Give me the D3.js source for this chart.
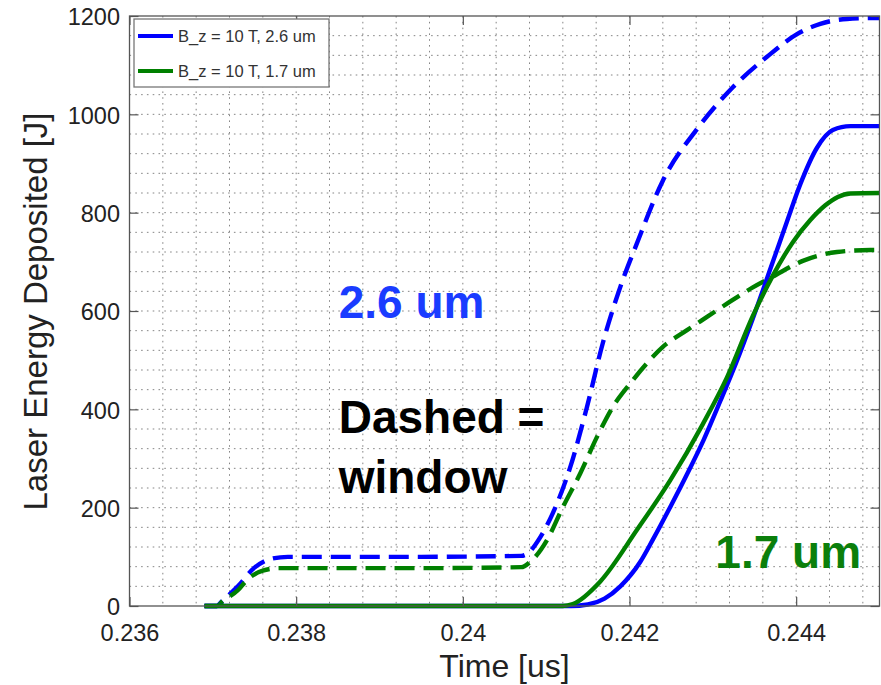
<!DOCTYPE html>
<html>
<head>
<meta charset="utf-8">
<script src="https://cdn.jsdelivr.net/npm/d3@7"></script>
<style>
  html, body { margin: 0; padding: 0; background: #fff; }
  svg { display: block; font-family: "Liberation Sans", Arial, Helvetica, sans-serif; }
</style>
</head>
<body>
<svg id="chart" width="881" height="685"></svg>
<script>
// ---------- data ----------
const xTickValues = [0.236, 0.238, 0.240, 0.242, 0.244];
const xTickLabels = ["0.236", "0.238", "0.24", "0.242", "0.244"];
const yTickValues = [0, 200, 400, 600, 800, 1000, 1200];
const yTickLabels = ["0", "200", "400", "600", "800", "1000", "1200"];

const seriesNames = ["B_z = 10 T, 2.6 um", "B_z = 10 T, 1.7 um"];
const seriesColors = ["#0000ff", "#008000"];

// 2.6 um, dashed (window)
const tBlueDash = [0.2369, 0.23705, 0.2371, 0.2373, 0.2375, 0.2377, 0.2379, 0.2395, 0.2407, 0.24077, 0.24093, 0.24108, 0.24129, 0.24149, 0.24168, 0.24189, 0.24209, 0.2424, 0.24281, 0.24324, 0.24365, 0.24401, 0.24429, 0.24461, 0.245];
const vBlueDash = [0, 0, 8, 40, 78, 96, 100, 100, 102, 106, 140, 189, 283, 405, 535, 649, 738, 865, 970, 1055, 1117, 1163, 1184, 1194, 1196];

// 1.7 um, dashed (window)
const tGreenDash = [0.2369, 0.23705, 0.23712, 0.2373, 0.23741, 0.2376, 0.2378, 0.2395, 0.2407, 0.24081, 0.24101, 0.2412, 0.24141, 0.24161, 0.2418, 0.24201, 0.24221, 0.2424, 0.24269, 0.24293, 0.24317, 0.24348, 0.24372, 0.24408, 0.24449, 0.24489, 0.245];
const vGreenDash = [0, 0, 10, 32, 53, 72, 77, 77, 79, 90, 134, 201, 270, 344, 405, 453, 494, 527, 561, 588, 615, 648, 670, 702, 720, 724, 724];

// 2.6 um, solid
const tBlueSolid = [0.2369, 0.2413, 0.2415, 0.2417, 0.24189, 0.24213, 0.24228, 0.2425, 0.24269, 0.24289, 0.24309, 0.24328, 0.24348, 0.24372, 0.24389, 0.24405, 0.24425, 0.24444, 0.24465, 0.245];
const vBlueSolid = [0, 0, 3, 15, 40, 90, 135, 205, 268, 338, 417, 495, 585, 700, 782, 858, 932, 968, 976, 976];

// 1.7 um, solid
const tGreenSolid = [0.2369, 0.2412, 0.24132, 0.24165, 0.24209, 0.24249, 0.24288, 0.24317, 0.24348, 0.24372, 0.24396, 0.24417, 0.24435, 0.2445, 0.24465, 0.245];
const vGreenSolid = [0, 0, 4, 50, 155, 256, 370, 465, 590, 672, 740, 785, 815, 832, 839, 840];

const annotations = ["2.6 um", "Dashed =", "window", "1.7 um"];

// ---------- layout ----------
const svg = d3.select("#chart");
const pLeft = 129.5, pRight = 879.5, pTop = 16, pBottom = 606;

const x = d3.scaleLinear().domain([0.236, 0.245]).range([pLeft, pRight]);
const y = d3.scaleLinear().domain([0, 1200]).range([pBottom, pTop]);

// minor grid (dotted)
const xGrid = d3.range(1, 23).map(i => 0.236 + i * 0.0004).filter(v => v < 0.2449);
const yGrid = d3.range(1, 30).map(i => i * 40);

const grid = svg.append("g").attr("stroke", "#858585").attr("stroke-width", 1)
  .attr("stroke-dasharray", "1.6,4.2");
grid.selectAll("line.gx").data(xGrid).join("line").attr("class", "gx")
  .attr("x1", d => x(d)).attr("x2", d => x(d))
  .attr("y1", pTop).attr("y2", pBottom);
grid.selectAll("line.gy").data(yGrid).join("line").attr("class", "gy")
  .attr("x1", pLeft).attr("x2", pRight)
  .attr("y1", d => y(d)).attr("y2", d => y(d));

// clip
svg.append("clipPath").attr("id", "clip").append("rect")
  .attr("x", pLeft).attr("y", pTop - 3).attr("width", pRight - pLeft).attr("height", pBottom - pTop + 6);

const line = d3.line().x(d => x(d[0])).y(d => y(d[1])).curve(d3.curveMonotoneX);
const zip = (t, v) => t.map((d, i) => [d, v[i]]);

const curves = [
  { data: zip(tBlueDash, vBlueDash), color: seriesColors[0], dash: "20,9" },
  { data: zip(tGreenDash, vGreenDash), color: seriesColors[1], dash: "20,9" },
  { data: zip(tBlueSolid, vBlueSolid), color: seriesColors[0], dash: null },
  { data: zip(tGreenSolid, vGreenSolid), color: seriesColors[1], dash: null }
];

svg.append("g").attr("clip-path", "url(#clip)")
  .selectAll("path").data(curves).join("path")
  .attr("d", d => line(d.data))
  .attr("fill", "none")
  .attr("stroke", d => d.color)
  .attr("stroke-width", 4.4)
  .attr("stroke-linejoin", "round")
  .attr("stroke-dasharray", d => d.dash);

// axes
const axisColor = "#555";
const xAxis = svg.append("g").attr("transform", `translate(0,${pBottom})`)
  .call(d3.axisBottom(x).tickValues(xTickValues).tickFormat((d, i) => xTickLabels[i])
    .tickSizeInner(-9).tickSizeOuter(0).tickPadding(18));
const yAxis = svg.append("g").attr("transform", `translate(${pLeft},0)`)
  .call(d3.axisLeft(y).tickValues(yTickValues).tickFormat((d, i) => yTickLabels[i])
    .tickSizeInner(-9).tickSizeOuter(0).tickPadding(9.5));
const xTopAxis = svg.append("g").attr("transform", `translate(0,${pTop})`)
  .call(d3.axisTop(x).tickValues(xTickValues).tickFormat("").tickSizeInner(-9).tickSizeOuter(0));
const yRightAxis = svg.append("g").attr("transform", `translate(${pRight},0)`)
  .call(d3.axisRight(y).tickValues(yTickValues).tickFormat("").tickSizeInner(-9).tickSizeOuter(0));

[xAxis, yAxis, xTopAxis, yRightAxis].forEach(g => {
  g.select(".domain").remove();
  g.selectAll(".tick line").attr("stroke", axisColor).attr("stroke-width", 1.2);
  g.selectAll("text").attr("font-size", 23.5).attr("fill", "#222")
    .attr("font-family", "'Liberation Sans', Arial, Helvetica, sans-serif");
});
yAxis.selectAll("text").attr("dy", "0.38em");

// frame
svg.append("rect").attr("x", pLeft).attr("y", pTop).attr("width", pRight - pLeft).attr("height", pBottom - pTop)
  .attr("fill", "none").attr("stroke", axisColor).attr("stroke-width", 1.3);

// axis labels
svg.append("text").attr("x", (pLeft + pRight) / 2).attr("y", 677)
  .attr("text-anchor", "middle").attr("font-size", 32).attr("fill", "#222").text("Time [us]");
svg.append("text").attr("transform", `translate(47,${(110 + 513) / 2}) rotate(-90)`)
  .attr("text-anchor", "middle").attr("font-size", 33).attr("fill", "#222").text("Laser Energy Deposited [J]");

// legend
const lg = svg.append("g");
lg.append("rect").attr("x", 134).attr("y", 19).attr("width", 195).attr("height", 68)
  .attr("fill", "#fff").attr("stroke", "#777").attr("stroke-width", 1.3);
const legendY = [36, 71];
seriesNames.forEach((name, i) => {
  lg.append("line").attr("x1", 138).attr("x2", 173).attr("y1", legendY[i]).attr("y2", legendY[i])
    .attr("stroke", seriesColors[i]).attr("stroke-width", 4);
  lg.append("text").attr("x", 178).attr("y", legendY[i] + 6).attr("font-size", 16.5)
    .attr("fill", "#333").text(name);
});

// annotations (placed in data coordinates)
const annoColors = ["#1a3cff", "#000", "#000", "#0b7f0b"];
const annoPos = [[0.23851, 586], [0.23851, 352], [0.23851, 230], [0.24303, 77]];
annotations.forEach((t, i) => {
  svg.append("text").attr("x", x(annoPos[i][0])).attr("y", y(annoPos[i][1]))
    .attr("font-size", 46).attr("font-weight", "bold")
    .attr("font-family", "'Liberation Sans', Arial, Helvetica, sans-serif")
    .attr("fill", annoColors[i]).text(t);
});
</script>
</body>
</html>
